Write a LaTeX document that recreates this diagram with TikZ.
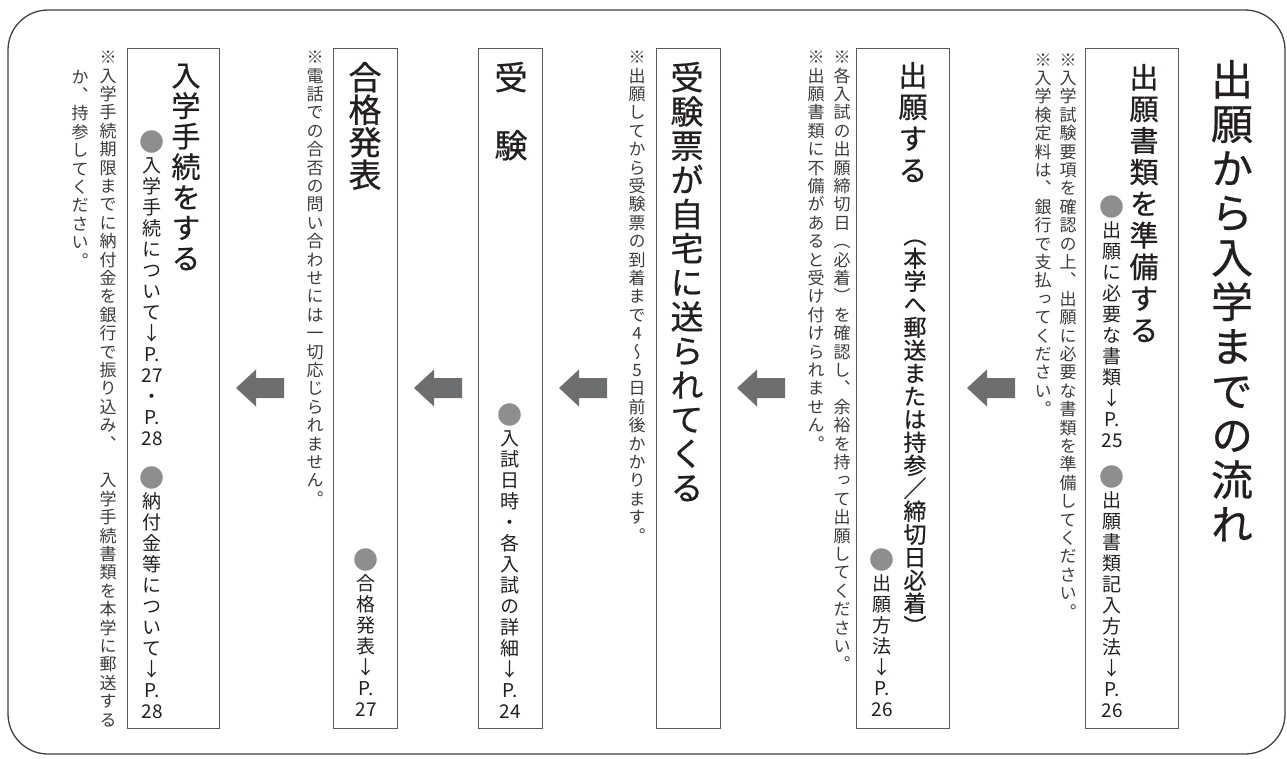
\documentclass[tikz,border=0pt]{standalone}
\usepackage{fontspec}
\newfontfamily\jp[RawFeature=+vert]{Noto Sans CJK JP}
\newfontfamily\jpb[RawFeature=+vert,FakeBold=0.6]{Noto Sans CJK JP}
\definecolor{inkblack}{HTML}{231F20}
\definecolor{notegray}{HTML}{3C3C3C}
\definecolor{dotgray}{HTML}{8E8E8E}
\definecolor{arrowgray}{HTML}{6D6E70}
\definecolor{linegray}{HTML}{5A5A5A}

% one character per cell, stacked top to bottom
\makeatletter
\newcommand\tatecol[2]{%
  \vbox{\baselineskip=#1\relax\lineskiplimit=-\maxdimen\lineskip=0pt
    \@tfor\tc:=#2\do{\hbox to 1em{\hss\vrule height .88em depth .12em width 0pt\tc\hss}}}}
\makeatother
\newcommand\gdot{{\fontsize{25}{25}\selectfont\textcolor{dotgray}{●}}}

\begin{document}
\begin{tikzpicture}[x=1pt,y=-1pt,
    frame/.style={draw=black!75, line width=1.3pt, rounded corners=40pt},
    stepbox/.style={draw=linegray, line width=1.3pt, fill=white, inner sep=0pt,
                    minimum height=680pt, anchor=north west},
    tate/.style={inner sep=0pt, anchor=north, text=inkblack},
    ttl/.style={tate, font=\jpb\fontsize{#1}{#1}\selectfont},
    ref/.style={tate, font=\jp\fontsize{19}{19}\selectfont},
    note/.style={tate, text=notegray, font=\jp\fontsize{17}{17}\selectfont}
  ]
  \useasboundingbox (0,0) rectangle (1287,758);
  \draw[frame] (8,10) rectangle (1285,754);

  % title
  \node[ttl=42] (title) at (1232,58) {\tatecol{44.5pt}{出願から入学までの流れ}};

  % the six steps
  \node[stepbox, minimum width=93pt] (box1) at (1085,48) {};
  \node[stepbox, minimum width=93pt] (box2) at (856,48) {};
  \node[stepbox, minimum width=64pt] (box3) at (656,48) {};
  \node[stepbox, minimum width=64pt] (box4) at (478,48) {};
  \node[stepbox, minimum width=64pt] (box5) at (333,48) {};
  \node[stepbox, minimum width=92pt] (box6) at (127,48) {};

  % step 1
  \node[ttl=29] (head1) at (1144,62.5) {\tatecol{31.6pt}{出願書類を準備する}};
  \node[ref] (ref1a) at (1112,195.5) {\tatecol{21pt}{\gdot 出願に必要な書類↓{P.}{25}}};
  \node[ref] (ref1b) at (1112,465.5) {\tatecol{21pt}{\gdot 出願書類記入方法↓{P.}{26}}};
  \node[note] (note1a) at (1068,51) {\tatecol{18.4pt}{※入学試験要項を確認の上、出願に必要な書類を準備してください。}};
  \node[note] (note1b) at (1043,51) {\tatecol{18.4pt}{※入学検定料は、銀行で支払ってください。}};

  % step 2
  \node[ttl=29] (head2) at (913,60.5) {\tatecol{31.6pt}{出願する}};
  \node[ttl=23] (head2b) at (915,223.5) {\tatecol{23pt}{（本学へ郵送または持参／締切日必着）}};
  \node[ref] (ref2) at (882,548.5) {\tatecol{21pt}{\gdot 出願方法↓{P.}{26}}};
  \node[note] (note2a) at (842,48.5) {\tatecol{18.4pt}{※各入試の出願締切日（必着）を確認し、余裕を持って出願してください。}};
  \node[note] (note2b) at (816,48.5) {\tatecol{18.4pt}{※出願書類に不備があると受け付けられません。}};

  % step 3
  \node[ttl=33] (head3) at (687,60.5) {\tatecol{34.2pt}{受験票が自宅に送られてくる}};
  \node[note] (note3) at (637,48.5) {\tatecol{18.4pt}{※出願してから受験票の到着まで4～5日前後かかります。}};

  % step 4
  \node[ttl=33] (head4) at (511,60.5) {\tatecol{34pt}{受{}験}};
  \node[ref] (ref4) at (510,403.5) {\tatecol{21pt}{\gdot 入試日時・各入試の詳細↓{P.}{24}}};

  % step 5
  \node[ttl=33] (head5) at (365,60.5) {\tatecol{32.5pt}{合格発表}};
  \node[ref] (ref5) at (366,548.5) {\tatecol{21pt}{\gdot 合格発表↓{P.}{27}}};
  \node[note] (note5) at (315,48.5) {\tatecol{18.4pt}{※電話での合否の問い合わせには一切応じられません。}};

  % step 6
  \node[ttl=29] (head6) at (186,60.5) {\tatecol{30.5pt}{入学手続をする}};
  \node[ref] (ref6a) at (152,130.5) {\tatecol{21pt}{\gdot 入学手続について↓{P.}{27}・{P.}{28}}};
  \node[ref] (ref6b) at (152,466.5) {\tatecol{21pt}{\gdot 納付金等について↓{P.}{28}}};
  \node[note] (note6a) at (108,48.5) {\tatecol{18.4pt}{※入学手続期限までに納付金を銀行で振り込み、{}入学手続書類を本学に郵送する}};
  \node[note] (note6b) at (80,68) {\tatecol{18.4pt}{か、持参してください。}};

  % arrows between the steps
  \foreach \ax in {967,737,559,414,236}
    \fill[arrowgray] (\ax,388) -- ++(20,-18.5) -- ++(0,8.5) -- ++(28,0) -- ++(0,20)
      -- ++(-28,0) -- ++(0,8.5) -- cycle;
\end{tikzpicture}
\end{document}
